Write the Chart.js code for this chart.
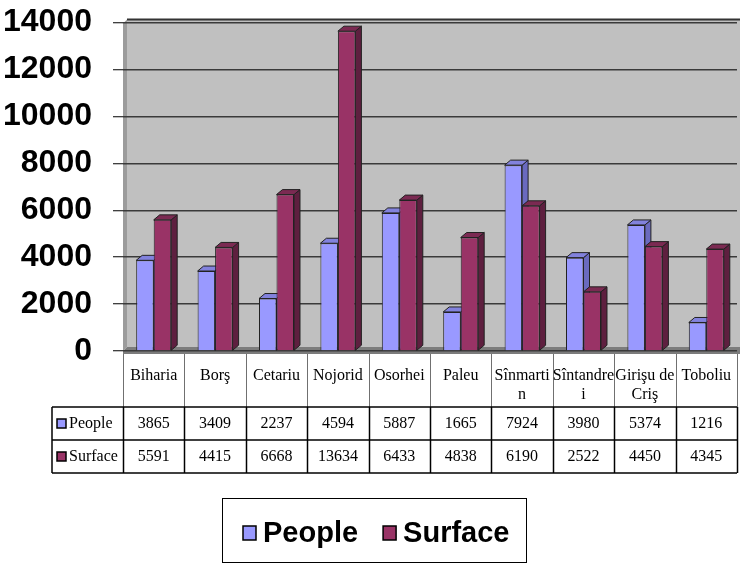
<!DOCTYPE html>
<html>
<head>
<meta charset="utf-8">
<script src="https://cdn.jsdelivr.net/npm/chart.js@4/dist/chart.umd.min.js"></script>
<style>
html, body { margin: 0; padding: 0; background: #fff; }
</style>
</head>
<body>
<canvas id="localidades" width="740" height="564"></canvas>
<script>
// categorias (con saltos de linea como en la tabla)
const categorias = [['Biharia'], ['Borş'], ['Cetariu'], ['Nojorid'], ['Osorhei'], ['Paleu'],
    ['Sînmarti', 'n'], ['Sîntandre', 'i'], ['Girişu de', 'Criş'], ['Toboliu']];
const people = [3865, 3409, 2237, 4594, 5887, 1665, 7924, 3980, 5374, 1216];
const surface = [5591, 4415, 6668, 13634, 6433, 4838, 6190, 2522, 4450, 4345];
const ticksY = [0, 2000, 4000, 6000, 8000, 10000, 12000, 14000];

const colores = {
    people: { front: '#9999ff', side: '#6a6abf', top: '#8282dd' },
    surface: { front: '#993366', side: '#5e1f3f', top: '#7b2a52' }
};

// fondo 3D: pared trasera, pared izquierda y suelo
const paredes = {
    id: 'paredes',
    beforeDraw(chart) {
        const { ctx, chartArea: a } = chart;
        ctx.save();
        ctx.fillStyle = '#c0c0c0';
        ctx.fillRect(a.left + 4, a.top - 3, 740 - (a.left + 4), a.bottom - a.top - 1);
        ctx.fillStyle = '#9c9c9c';
        ctx.beginPath();
        ctx.moveTo(a.left, a.top + 1);
        ctx.lineTo(a.left + 4, a.top - 3);
        ctx.lineTo(a.left + 4, a.bottom - 4);
        ctx.lineTo(a.left, a.bottom);
        ctx.closePath();
        ctx.fill();
        ctx.fillStyle = '#7c7c7c';
        ctx.beginPath();
        ctx.moveTo(a.left, a.bottom);
        ctx.lineTo(a.left + 4, a.bottom - 4);
        ctx.lineTo(740, a.bottom - 4);
        ctx.lineTo(740, a.bottom + 3);
        ctx.lineTo(a.left, a.bottom + 3);
        ctx.closePath();
        ctx.fill();
        ctx.strokeStyle = '#333';
        ctx.lineWidth = 2;
        ctx.beginPath();
        ctx.moveTo(a.left + 4, a.top - 3);
        ctx.lineTo(740, a.top - 3);
        ctx.stroke();
        ctx.restore();
    }
};

// caras laterales y superiores de las barras
const profundidad = {
    id: 'profundidad',
    beforeDatasetsDraw(chart) {
        const ctx = chart.ctx;
        const dx = 6, dy = -5;
        ctx.save();
        ctx.strokeStyle = '#222';
        ctx.lineWidth = 1;
        chart.data.datasets.forEach((ds, i) => {
            const c = i === 0 ? colores.people : colores.surface;
            chart.getDatasetMeta(i).data.forEach(bar => {
                const l = bar.x - bar.width / 2, r = bar.x + bar.width / 2;
                ctx.fillStyle = c.side;
                ctx.beginPath();
                ctx.moveTo(r, bar.y);
                ctx.lineTo(r + dx, bar.y + dy);
                ctx.lineTo(r + dx, bar.base + dy);
                ctx.lineTo(r, bar.base);
                ctx.closePath();
                ctx.fill();
                ctx.stroke();
                ctx.fillStyle = c.top;
                ctx.beginPath();
                ctx.moveTo(l, bar.y);
                ctx.lineTo(l + dx, bar.y + dy);
                ctx.lineTo(r + dx, bar.y + dy);
                ctx.lineTo(r, bar.y);
                ctx.closePath();
                ctx.fill();
                ctx.stroke();
            });
        });
        ctx.restore();
    }
};

// tabla de datos y leyenda
const tabla = {
    id: 'tabla',
    afterDraw(chart) {
        const { ctx, chartArea: a } = chart;
        const xs = chart.scales.x;
        const n = chart.data.labels.length;
        const col = (a.right - a.left) / n;
        const top = a.bottom, r1 = 407, r2 = 440, r3 = 473, left = 52;
        ctx.save();
        // lineas cabecera
        ctx.strokeStyle = '#707070';
        ctx.lineWidth = 1;
        for (let i = 0; i <= n; i++) {
            const x = Math.round(a.left + col * i) + 0.5;
            ctx.beginPath();
            ctx.moveTo(x, top + 3);
            ctx.lineTo(x, r1);
            ctx.stroke();
        }
        // lineas filas
        ctx.strokeStyle = '#000';
        ctx.lineWidth = 1.5;
        [r1, r2, r3].forEach(y => {
            ctx.beginPath();
            ctx.moveTo(left, y);
            ctx.lineTo(a.right, y);
            ctx.stroke();
        });
        [left].concat(Array.from({ length: n + 1 }, (_, i) => Math.round(a.left + col * i) + 0.5)).forEach(x => {
            ctx.beginPath();
            ctx.moveTo(x, r1);
            ctx.lineTo(x, r3);
            ctx.stroke();
        });
        // textos
        ctx.fillStyle = '#000';
        ctx.font = '16px "Liberation Serif", "Times New Roman", serif';
        ctx.textAlign = 'center';
        ctx.textBaseline = 'middle';
        chart.data.labels.forEach((lab, i) => {
            const x = xs.getPixelForValue(i);
            lab.forEach((linea, k) => ctx.fillText(linea, x, 376 + k * 19));
        });
        chart.data.datasets.forEach((ds, d) => {
            const y = d === 0 ? 424 : 457;
            ds.data.forEach((v, i) => ctx.fillText(String(v), xs.getPixelForValue(i), y));
            ctx.fillStyle = ds.backgroundColor;
            ctx.fillRect(57, y - 5, 9, 9);
            ctx.strokeStyle = '#000';
            ctx.lineWidth = 1.5;
            ctx.strokeRect(57, y - 5, 9, 9);
            ctx.fillStyle = '#000';
            ctx.textAlign = 'left';
            ctx.fillText(ds.label, 69, y);
            ctx.textAlign = 'center';
        });
        // leyenda
        ctx.strokeStyle = '#000';
        ctx.lineWidth = 1;
        ctx.strokeRect(222.5, 498.5, 304, 64);
        ctx.font = 'bold 29px "Liberation Sans", Arial, sans-serif';
        ctx.textAlign = 'left';
        let x = 243;
        chart.data.datasets.forEach(ds => {
            ctx.fillStyle = ds.backgroundColor;
            ctx.fillRect(x, 526, 13, 14);
            ctx.strokeStyle = '#000';
            ctx.lineWidth = 1.5;
            ctx.strokeRect(x, 526, 13, 14);
            ctx.fillStyle = '#000';
            ctx.fillText(ds.label, x + 20, 534);
            x += 20 + ctx.measureText(ds.label).width + 25;
        });
        ctx.restore();
    }
};

const ctx = document.getElementById('localidades').getContext('2d');
new Chart(ctx, {
    type: 'bar',
    data: {
        labels: categorias,
        datasets: [{
            label: 'People',
            data: people,
            backgroundColor: colores.people.front,
            borderColor: '#222',
            borderWidth: 1
        }, {
            label: 'Surface',
            data: surface,
            backgroundColor: colores.surface.front,
            borderColor: '#222',
            borderWidth: 1
        }]
    },
    options: {
        responsive: false,
        animation: false,
        devicePixelRatio: 1,
        layout: { padding: { top: 19, right: 3, bottom: 213, left: 0 } },
        datasets: { bar: { categoryPercentage: 0.57, barPercentage: 1.0 } },
        plugins: { legend: { display: false }, tooltip: { enabled: false } },
        scales: {
            x: { display: false },
            y: {
                min: 0,
                max: 14000,
                afterFit: s => { s.width = 123; },
                afterBuildTicks: s => { s.ticks = ticksY.map(v => ({ value: v })); },
                border: { display: false },
                grid: { color: '#3a3a3a', lineWidth: 1.5, tickColor: '#000', tickLength: 10, tickWidth: 1 },
                ticks: {
                    padding: 21,
                    color: '#000',
                    callback: v => String(v),
                    font: { family: '"Liberation Sans", Arial, sans-serif', size: 32, weight: 'bold', lineHeight: 0.1 }
                }
            }
        }
    },
    plugins: [paredes, profundidad, tabla]
});
</script>
</body>
</html>
